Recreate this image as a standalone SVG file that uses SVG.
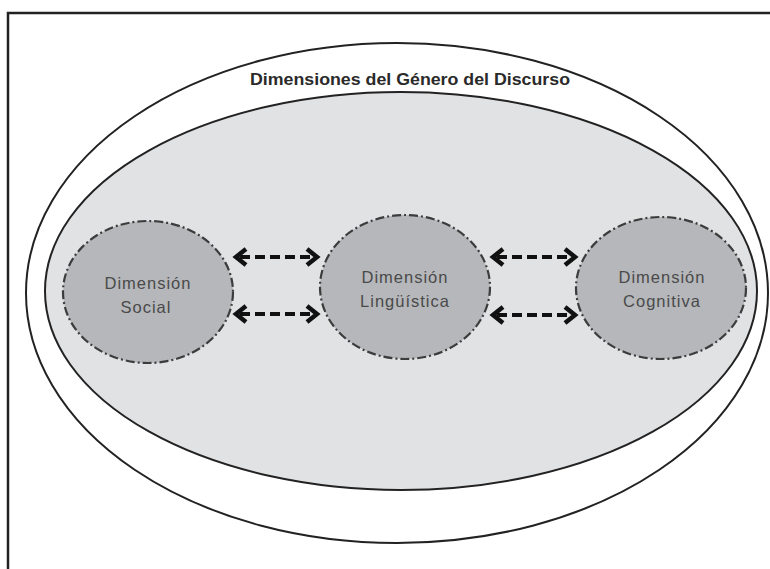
<svg xmlns="http://www.w3.org/2000/svg" width="770" height="569" viewBox="0 0 770 569">
<style>
.lbl{font-family:"Liberation Sans",Arial,sans-serif;font-size:16.5px;fill:#4a4a4a;text-anchor:middle;letter-spacing:1px}
.dim{fill:#b5b7ba;stroke:#3c3c3c;stroke-width:2.2;stroke-dasharray:9 3 2 3}
.shaft{stroke:#111;stroke-width:4;stroke-dasharray:10 5;fill:none}
.head{stroke:#111;stroke-width:4.5;fill:none;stroke-linejoin:miter;stroke-linecap:butt}
</style>
<rect width="770" height="569" fill="#fff"/>
<path d="M8,569 V13 H770" fill="none" stroke="#222" stroke-width="2.5"/>
<g id="outer">
<ellipse cx="397" cy="293" rx="371" ry="250" fill="#fff" stroke="#222" stroke-width="2"/>
<text x="410" y="85" font-family="Liberation Sans,Arial,sans-serif" font-size="16.5" font-weight="bold" fill="#2a2a2a" text-anchor="middle" textLength="320" lengthAdjust="spacingAndGlyphs">Dimensiones del Género del Discurso</text>
</g>
<g id="inner">
<ellipse cx="401" cy="291" rx="356" ry="199" fill="#e1e2e4" stroke="#222" stroke-width="2"/>
</g>
<g id="social">
<ellipse class="dim" cx="148" cy="292" rx="85" ry="71"/>
<text class="lbl" x="148" y="289">Dimensión</text>
<text class="lbl" x="146" y="313">Social</text>
</g>
<g id="linguistica">
<ellipse class="dim" cx="405" cy="287" rx="85" ry="72"/>
<text class="lbl" x="405" y="283">Dimensión</text>
<text class="lbl" x="405" y="307">Lingüística</text>
</g>
<g id="cognitiva">
<ellipse class="dim" cx="661" cy="288" rx="85" ry="71"/>
<text class="lbl" x="662" y="283">Dimensión</text>
<text class="lbl" x="662" y="307">Cognitiva</text>
</g>
<g id="connectors">
<line class="shaft" x1="240" y1="257" x2="312" y2="257"/>
<polyline class="head" points="246,249 236,257 246,265"/>
<polyline class="head" points="307,249 317,257 307,265"/>
<line class="shaft" x1="240" y1="314" x2="312" y2="314"/>
<polyline class="head" points="246,306 236,314 246,322"/>
<polyline class="head" points="307,306 317,314 307,322"/>
<line class="shaft" x1="497" y1="257" x2="570" y2="257"/>
<polyline class="head" points="503,249 493,257 503,265"/>
<polyline class="head" points="565,249 575,257 565,265"/>
<line class="shaft" x1="497" y1="315" x2="570" y2="315"/>
<polyline class="head" points="503,307 493,315 503,323"/>
<polyline class="head" points="565,307 575,315 565,323"/>
</g>
</svg>
